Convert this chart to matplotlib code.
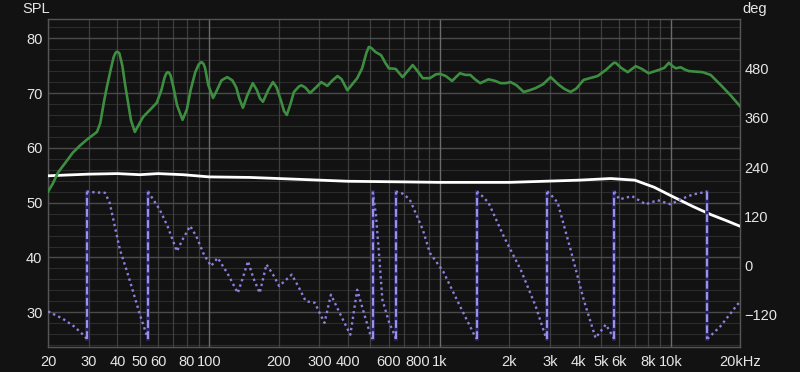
import numpy as np
import matplotlib
matplotlib.use("Agg")
import matplotlib.pyplot as plt

# ---------------- data ----------------
spl_freq = [20, 21, 22.1, 24, 25.6, 27.5, 29.5, 31, 32.6, 33.7, 35, 36.0, 37.5, 38.5, 39.1, 39.6, 40.2, 40.8,
            42, 43.2, 44.3, 45.8, 47.6, 49.5, 51.6, 55, 59.2, 62, 64, 65, 66.0, 67, 68, 70, 72.5, 76.6,
            80, 83, 87, 90, 92, 93, 94.5, 96, 99, 103.9, 108, 113, 119.6, 126, 131, 135, 140, 146, 154.5,
            161, 166, 171, 180, 188.9, 196, 205, 211, 217, 225, 233, 245, 251, 261, 273.6, 290,
            306, 325, 342, 360, 375, 397, 415, 438, 460, 480, 492, 505, 525, 556, 580, 601, 643,
            689, 725, 762, 800, 843, 905, 960, 1002, 1060, 1130, 1180, 1222, 1290, 1354, 1420,
            1496, 1624, 1740, 1830, 1930, 2025, 2150, 2308, 2450, 2600, 2800, 3020, 3276, 3480,
            3687, 3900, 4200, 4830, 5240, 5670, 5790, 6100, 6520, 7060, 7500, 8030, 8880, 9400,
            9820, 10200, 10530, 11060, 11500, 11990, 13770, 14920, 16470, 18190, 20000]
spl_db = [52.0, 53.5, 55.5, 57.5, 59.1, 60.4, 61.5, 62.2, 62.9, 64.5, 68.5, 71.1, 74.5, 76.5, 77.2, 77.5,
          77.5, 77.2, 75.0, 71.5, 68.7, 65.0, 62.9, 64.2, 65.6, 66.8, 68.2, 70.5, 72.8, 73.5, 73.8, 73.7, 73.2, 71.0,
          67.8, 65.1, 67.0, 70.5, 73.8, 75.2, 75.6, 75.6, 75.3, 74.5, 71.5, 69.1, 70.5, 72.3, 72.9, 72.3, 71.0,
          69.0, 67.3, 69.5, 71.8, 70.5, 69.0, 68.4, 70.5, 72.0, 71.0, 68.5, 66.7, 66.0, 68.0, 70.2,
          71.2, 71.4, 71.0, 70.0, 71.0, 72.0, 71.3, 72.3, 73.1, 72.5, 70.5, 71.5, 72.7, 74.5, 77.3,
          78.4, 78.2, 77.5, 76.9, 75.5, 74.5, 74.4, 72.9, 74.0, 75.1, 74.0, 72.7, 72.7, 73.4, 73.5,
          73.1, 72.2, 73.0, 73.6, 73.3, 73.3, 72.5, 71.8, 72.5, 72.2, 71.8, 71.8, 72.0, 71.4, 70.2,
          70.5, 70.9, 71.6, 72.9, 71.5, 70.7, 70.2, 70.8, 72.4, 73.1, 74.2, 75.5, 75.5, 74.6, 73.8,
          74.9, 74.4, 73.6, 74.2, 74.6, 75.5, 74.9, 74.5, 74.7, 74.3, 74.0, 73.8, 73.3, 71.5, 69.6,
          67.6]

ref_freq = [20, 30, 40, 50, 60, 77, 100, 150, 200, 400, 660, 1000, 2000, 4000, 5500, 7000, 8500,
            10000, 12500, 15000, 17500, 20000]
ref_db = [54.9, 55.2, 55.3, 55.1, 55.3, 55.1, 54.7, 54.6, 54.4, 53.9, 53.8, 53.7, 53.7, 54.1, 54.4,
          54.1, 52.8, 51.3, 49.3, 47.8, 46.7, 45.7]

phase_freq = [20, 23.2, 26, 28.9, 29.4, 29.4, 32, 35.3, 37.0, 41, 44, 46.9, 50, 53.5, 54.3, 54.3,
              61, 66, 72.4, 77, 82.7, 88, 95, 101.9, 108.8, 120, 133, 140, 147.3, 155, 165.5, 177,
              190, 201, 228, 245, 262, 287, 300, 316, 337, 370, 409, 438, 470, 502, 511, 511, 528,
              547, 563, 601, 639, 643, 643, 690, 740, 843, 905, 1033, 1222, 1420, 1446, 1446, 1520,
              1624, 1890, 2240, 2600, 2870, 2920, 2920, 3000, 3240, 3687, 4200, 4730, 5240, 5620,
              5700, 5700, 6000, 6800, 7800, 8790, 10000, 11050, 12500, 14450, 14450, 16470, 19500,
              20000]
phase_deg = [-113, -131, -150, -174, -180, 180, 178, 177, 153, 38, -15, -67, -120, -170, -180, 180,
             136, 95, 34, 65, 96, 70, 25, -2, 18, -20, -68, -30, 10, -30, -68, 2,
             -25, -51, -23, -55, -88, -92, -115, -141, -72, -120, -170, -60, -120, -174, -180, 180, 124,
             14, -84, -138, -174, -180, 180, 175, 161, 87, 30, -15, -100, -174, -180, 180, 170,
             153, 71, -11, -100, -174, -180, 180, 175, 153, 38, -84, -178, -145, -174,
             -180, 180, 161, 169, 149, 159, 149, 161, 173, 180, -180, -149, -96,
             -90]

spl_ticks = [30, 40, 50, 60, 70, 80]
deg_ticks = [-120, 0, 120, 240, 360, 480]
x_ticks = [20, 30, 40, 50, 60, 80, 100, 200, 300, 400, 600, 800, 1000, 2000, 3000, 4000, 5000,
           6000, 8000, 10000, 20000]
x_labels = ["20", "30", "40", "50", "60", "80", "100", "200", "300", "400", "600", "800", "1k",
            "2k", "3k", "4k", "5k", "6k", "8k", "10k", "20kHz"]

# ---------------- style ----------------
BG = "#121212"
TXT = "#e6e6e6"
GREEN = "#3e8e41"
PHASE = "#8a80de"
plt.rcParams["font.family"] = ["Liberation Sans", "DejaVu Sans"]

fig = plt.figure(figsize=(8, 3.72), dpi=100, facecolor=BG)
ax = fig.add_axes([48 / 800, 1 - 347 / 372, (740 - 48) / 800, (347 - 19) / 372])
ax.set_facecolor(BG)
ax.set_xscale("log")
ax.set_xlim(20, 20000)
ax.set_ylim(23.67, 83.5)

# grid
minor_x = [f * d for d in (10, 100, 1000) for f in range(2, 10)] + [20000]
for f in minor_x:
    ax.axvline(f, color="#3e3e3e", lw=0.9, zorder=0.5)
for f in (100, 1000, 10000):
    ax.axvline(f, color="#6a6a6a", lw=1.0, zorder=0.6)
for v in np.arange(24, 84, 2):
    ax.axhline(v, color="#2c2c2c", lw=0.8, zorder=0.4)
for v in spl_ticks:
    ax.axhline(v, color="#4a4a4a", lw=1.0, zorder=0.5)
for s in ax.spines.values():
    s.set_color("#555555")
    s.set_linewidth(1.0)

ax.set_xticks(x_ticks)
ax.set_xticklabels(x_labels)
ax.xaxis.set_minor_locator(matplotlib.ticker.NullLocator())
ax.set_yticks(spl_ticks)
ax.tick_params(axis="both", length=0, colors=TXT, labelsize=10.5)
ax.tick_params(axis="x", pad=6)
ax.tick_params(axis="y", pad=4)

ax.plot(ref_freq, ref_db, color="white", lw=2.0, zorder=3, solid_capstyle="round")
ax.plot(spl_freq, spl_db, color=GREEN, lw=1.9, zorder=4, solid_joinstyle="round")

# phase
ax2 = ax.twinx()
ax2.set_ylim(-200, 602)
ax2.set_yticks(deg_ticks)
ax2.tick_params(axis="y", length=0, colors=TXT, labelsize=10.5, pad=3)
for s in ax2.spines.values():
    s.set_visible(False)

pf = np.array(phase_freq, dtype=float)
pd_ = np.array(phase_deg, dtype=float)
jumps = np.where(np.abs(np.diff(pd_)) > 300)[0]
start = 0
for j in list(jumps) + [len(pf) - 1]:
    seg = slice(start, j + 1)
    ax2.plot(pf[seg], pd_[seg], color=PHASE, lw=1.7, ls=(0, (1, 1.4)), zorder=3)
    if j < len(pf) - 1:
        ax2.plot([pf[j], pf[j + 1]], [pd_[j], pd_[j + 1]], color="#2a2560", lw=2.6,
                 zorder=2.9)
        ax2.plot([pf[j], pf[j + 1]], [pd_[j], pd_[j + 1]], color="#9a92ea", lw=1.6,
                 ls=(0, (3.5, 1.5)), zorder=3)
    start = j + 1

fig.text(22 / 800, 1 - 9 / 372, "SPL", color=TXT, fontsize=10.5, va="center", ha="left")
fig.text(742 / 800, 1 - 9 / 372, "deg", color=TXT, fontsize=10.5, va="center", ha="left")

fig.savefig("out.png", dpi=100, facecolor=BG)
